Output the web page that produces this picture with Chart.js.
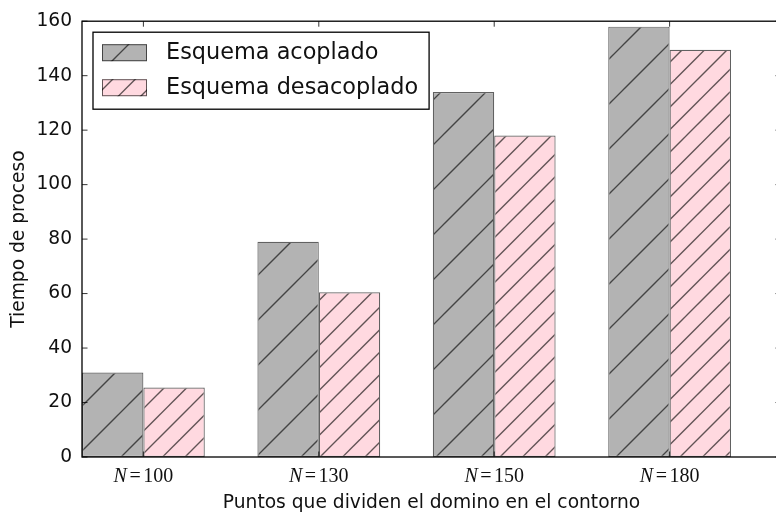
<!DOCTYPE html>
<html><head><meta charset="utf-8">
<script src="https://cdn.jsdelivr.net/npm/chart.js@4/dist/chart.umd.min.js"></script>
<style>
html,body{margin:0;padding:0;overflow:hidden;background:#fff;width:776px;height:512px}
#wrap{position:relative;width:783px;height:512px}
canvas{display:block}
</style></head><body>
<div id="wrap"><canvas id="c" width="783" height="512"></canvas></div>
<script>
// ---- data ----
const categories = ['100', '130', '150', '180'];
const seriesNames = ['Esquema acoplado', 'Esquema desacoplado'];
const acoplado = [31, 79, 134, 158];
const desacoplado = [25.5, 60.5, 118, 149.5];
const yTicks = [0, 20, 40, 60, 80, 100, 120, 140, 160];
const xTitle = 'Puntos que dividen el domino en el contorno';
const yTitle = 'Tiempo de proceso';
const catPositions = categories.map((_, i) => i);

// ---- styles ----
const BASE = 18.67;
const FONT = 'DejaVu Sans';
const EDGE = 'rgba(0,0,0,0.62)';

function hatch(fill, phases, period) {
  const c = document.createElement('canvas');
  c.width = period; c.height = period;
  const g = c.getContext('2d');
  g.fillStyle = fill; g.fillRect(0, 0, period, period);
  g.strokeStyle = 'rgba(0,0,0,0.62)'; g.lineWidth = 1.35;
  for (const ph of phases) for (const k of [-1, 0, 1, 2]) {
    const s = ph + k * period;
    g.beginPath(); g.moveTo(s + 20, -20); g.lineTo(-20, s + 20); g.stroke();
  }
  return g.createPattern(c, 'repeat');
}
const ctx0 = document.getElementById('c').getContext('2d');
const grayPat = hatch('rgb(179,179,179)', [38], 45);
const pinkPat = hatch('rgb(255,217,224)', [12, 34.5], 45);

const frame = {
  id: 'frame',
  afterDraw(chart) {
    const { ctx, chartArea: a, scales } = chart;
    const xs = scales.x, ys = scales.y;
    ctx.save();
    // ticks (inward)
    ctx.strokeStyle = '#000'; ctx.lineWidth = 0.8;
    const TL = 5.5;
    ctx.beginPath();
    yTicks.forEach(v => {
      const p = ys.getPixelForValue(v);
      ctx.moveTo(a.left, p); ctx.lineTo(a.left + TL, p);
      ctx.moveTo(a.right, p); ctx.lineTo(a.right - TL, p);
    });
    catPositions.forEach(v => {
      const p = xs.getPixelForValue(v);
      ctx.moveTo(p, a.top); ctx.lineTo(p, a.top + TL);
      ctx.moveTo(p, a.bottom); ctx.lineTo(p, a.bottom - TL);
    });
    ctx.stroke();
    // spines
    ctx.lineWidth = 1.3;
    ctx.strokeRect(a.left, a.top, a.right - a.left, a.bottom - a.top);

    // x tick labels  N=100
    const fs = 20;
    ctx.fillStyle = '#111';
    ctx.textBaseline = 'alphabetic';
    ctx.textAlign = 'left';
    catPositions.forEach((v, i) => {
      const p = xs.getPixelForValue(v);
      ctx.font = `italic ${fs}px "Liberation Serif"`;
      const wN = ctx.measureText('N').width;
      ctx.font = `${fs}px "Liberation Serif"`;
      const wEq = ctx.measureText('=').width;
      const wNum = ctx.measureText(categories[i]).width;
      const gap = 2.5;
      const total = wN + gap + wEq + gap + wNum;
      let x = p - total / 2;
      const y = a.bottom + 25;
      ctx.font = `italic ${fs}px "Liberation Serif"`;
      ctx.fillText('N', x, y); x += wN + gap;
      ctx.font = `${fs}px "Liberation Serif"`;
      ctx.fillText('=', x, y); x += wEq + gap;
      ctx.fillText(categories[i], x, y);
    });

    // legend (upper left, inside axes)
    const lf = 22.4;
    ctx.font = `${lf}px "${FONT}"`;
    const ds = chart.data.datasets;
    const bx = a.left + 11, by = a.top + 11;
    const swX = bx + 9, swW = 45, swH = 17;
    const txX = bx + 73;
    const rowY = [by + 20.5, by + 55.5];
    const tw = Math.max(...ds.map(d => ctx.measureText(d.label).width));
    const bw = (txX - bx) + tw + 11, bh = 77;
    ctx.fillStyle = '#fff';
    ctx.fillRect(bx, by, bw, bh);
    ctx.lineWidth = 1.3; ctx.strokeStyle = '#000';
    ctx.strokeRect(bx, by, bw, bh);
    ds.forEach((d, i) => {
      const cy = rowY[i];
      ctx.fillStyle = d.backgroundColor;
      ctx.fillRect(swX, cy - swH / 2, swW, swH);
      ctx.lineWidth = 1; ctx.strokeStyle = EDGE;
      ctx.strokeRect(swX + 0.5, cy - swH / 2 + 0.5, swW - 1, swH - 1);
      ctx.fillStyle = '#111';
      ctx.textBaseline = 'middle';
      ctx.fillText(d.label, txX, cy + 0.5);
    });
    ctx.restore();
  }
};

new Chart(ctx0, {
  type: 'bar',
  data: {
    datasets: [
      { label: seriesNames[0], data: acoplado.map((v, i) => ({ x: catPositions[i], y: v })),
        backgroundColor: grayPat, borderColor: EDGE, borderWidth: 1.2, borderSkipped: false,
        categoryPercentage: 0.7, barPercentage: 1 },
      { label: seriesNames[1], data: desacoplado.map((v, i) => ({ x: catPositions[i], y: v })),
        backgroundColor: pinkPat, borderColor: EDGE, borderWidth: 1.2, borderSkipped: false,
        categoryPercentage: 0.7, barPercentage: 1 }
    ]
  },
  options: {
    responsive: false, animation: false, devicePixelRatio: 1,
    layout: { padding: { top: 20, right: 2, left: 0, bottom: 0 } },
    plugins: { legend: { display: false }, tooltip: { enabled: false } },
    scales: {
      x: {
        type: 'linear', offset: false, min: -0.35, max: 3.635,
        grid: { display: false, drawTicks: false }, border: { display: false },
        ticks: { display: false },
        afterBuildTicks: s => { s.ticks = catPositions.map(v => ({ value: v })); },
        afterFit: s => { s.height = 55; },
        title: { display: true, text: xTitle, color: '#111', font: { family: FONT, size: BASE, lineHeight: 1 }, padding: 0 }
      },
      y: {
        min: 0, max: 160,
        grid: { display: false, drawTicks: false }, border: { display: false },
        afterBuildTicks: s => { s.ticks = yTicks.map(v => ({ value: v })); },
        ticks: { color: '#111', padding: 10, font: { family: FONT, size: BASE } },
        afterFit: s => { s.width = 82; },
        title: { display: true, text: yTitle, color: '#111', font: { family: FONT, size: BASE }, padding: { top: 8, bottom: 0 } }
      }
    }
  },
  plugins: [frame]
});
</script>
</body></html>
